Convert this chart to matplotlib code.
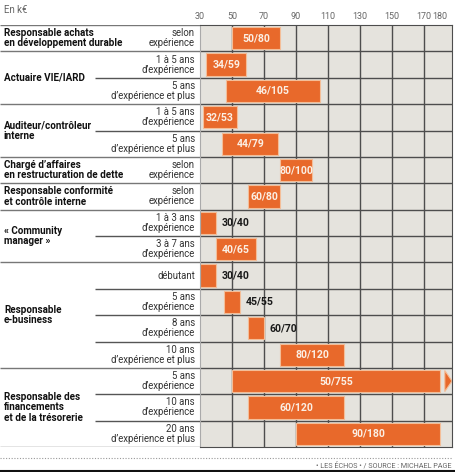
import matplotlib.pyplot as plt
import numpy as np

plt.rcParams['font.family'] = ['Roboto', 'DejaVu Sans']

group_names = [
    "Responsable achats\nen développement durable",
    "Actuaire VIE/IARD",
    "Auditeur/contrôleur\ninterne",
    "Chargé d’affaires\nen restructuration de dette",
    "Responsable conformité\net contrôle interne",
    "« Community\nmanager »",
    "Responsable\ne-business",
    "Responsable des\nfinancements\net de la trésorerie",
]
group_sizes = [1, 2, 2, 1, 1, 2, 4, 3]

sub_labels = [
    "selon\nexpérience",
    "1 à 5 ans\nd’expérience",
    "5 ans\nd’expérience et plus",
    "1 à 5 ans\nd’expérience",
    "5 ans\nd’expérience et plus",
    "selon\nexpérience",
    "selon\nexpérience",
    "1 à 3 ans\nd’expérience",
    "3 à 7 ans\nd’expérience",
    "débutant",
    "5 ans\nd’expérience",
    "8 ans\nd’expérience",
    "10 ans\nd’expérience et plus",
    "5 ans\nd’expérience",
    "10 ans\nd’expérience",
    "20 ans\nd’expérience et plus",
]
lows = [50, 34, 46, 32, 44, 80, 60, 30, 40, 30, 45, 60, 80, 50, 60, 90]
highs = [80, 59, 105, 53, 79, 100, 80, 40, 65, 40, 55, 70, 120, 755, 120, 180]

xticks = [30, 50, 70, 90, 110, 130, 150, 170, 180]
grid_x = [50, 70, 90, 110, 130, 150, 170]

ORANGE = "#E8692B"
EDGE = "#F4BE98"
BG = "#E5E3DD"
LINE = "#4d4d4d"

W, H = 455, 472
fig = plt.figure(figsize=(W / 100, H / 100), dpi=100)

left_px, right_px, top_px, bot_px = 200, 452, 25, 447
b = (H - bot_px) / H
h = (bot_px - top_px) / H
ax = fig.add_axes([left_px / W, b, (right_px - left_px) / W, h])
lab = fig.add_axes([0, b, left_px / W, h])

n = len(lows)
xmax = 30 + (right_px - left_px) / 1.6
ax.set_xlim(30, xmax)
ax.set_ylim(n, 0)
ax.set_facecolor(BG)

for gx in grid_x:
    ax.axvline(gx, color=LINE, lw=1, zorder=1)
for r in range(1, n):
    ax.axhline(r, color=LINE, lw=1, zorder=1)

y = np.arange(n) + 0.5
cap = 180
for i in range(n):
    lo, hi = lows[i], highs[i]
    end = min(hi, cap)
    ax.barh(y[i], end - lo, left=lo, height=0.84, color=ORANGE,
            edgecolor=EDGE, lw=0.8, zorder=2)
    txt = f"{lo}/{hi}"
    if end - lo <= 10:
        ax.text(end + 3.5, y[i], txt, ha="left", va="center", color="#1a1a1a",
                fontsize=7.6, fontweight="bold", zorder=3)
    else:
        ax.text((lo + end) / 2, y[i], txt, ha="center", va="center",
                color="#FBEFE4", fontsize=7.6, fontweight="bold", zorder=3)
    if hi > cap:
        ax.fill([cap + 3, cap + 7.5, cap + 3], [y[i] - 0.4, y[i], y[i] + 0.4],
                color=ORANGE, ec=EDGE, lw=0.8, zorder=2)

ax.xaxis.tick_top()
ax.set_xticks(xticks)
ax.set_xticklabels([str(t) for t in xticks], fontsize=6.5, color="#666666")
ax.tick_params(axis="x", length=0, pad=3)
ax.set_yticks([])
for s in ["top", "bottom", "right"]:
    ax.spines[s].set_color(LINE)
ax.spines["left"].set_color("#aaaaaa")

# left label panel
lab.set_xlim(0, left_px)
lab.set_ylim(n, 0)
lab.axis("off")
start = 0
lab.hlines(0, 0, left_px, color="#777777", lw=1)
for name, size in zip(group_names, group_sizes):
    lab.text(4, start + size / 2, name, ha="left", va="center", fontsize=7.1,
             fontweight="bold", color="#111111", linespacing=1.05)
    for k in range(1, size):
        lab.hlines(start + k, 95, left_px, color="#555555", lw=1)
    start += size
    lab.hlines(start, 0, left_px, color="#777777", lw=1)
for i, s in enumerate(sub_labels):
    lab.text(195, y[i], s, ha="right", va="center", fontsize=6.9,
             color="#333333", linespacing=1.0)

fig.text(4 / W, 1 - 10 / H, "En k€", fontsize=7, color="#666666",
         ha="left", va="center")

fig.add_artist(plt.Line2D([0, right_px / W], [1 - 458 / H] * 2, color="#999999",
                          lw=0.8, ls=(0, (1, 1.5))))
fig.text(right_px / W, 1 - 466 / H, "• LES ÉCHOS • / SOURCE : MICHAEL PAGE",
         fontsize=5.2, color="#666666", ha="right", va="center")
fig.add_artist(plt.Line2D([0, 1], [1 - 471 / H] * 2, color="#111111", lw=1.5))

fig.savefig("out.png", dpi=100)
